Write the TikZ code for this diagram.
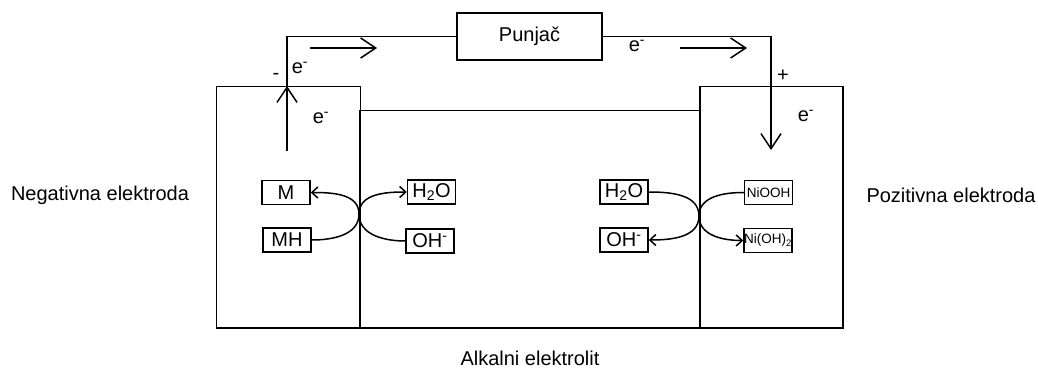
\documentclass[tikz,border=0pt]{standalone}
\usepackage{fontspec}
\setmainfont{Liberation Sans}
\usepackage{tikz}
\usetikzlibrary{arrows.meta,positioning}

\begin{document}
\begin{tikzpicture}[
    x=1pt, y=-1pt,
    cell/.style={draw, line width=1.5pt, inner sep=0pt, anchor=north west},
    chem/.style={draw, line width=1.5pt, minimum width=48pt, minimum height=24pt, inner sep=0pt, font=\fontsize{20}{24}\selectfont},
    lbl/.style={font=\fontsize{20}{24}\selectfont},
    wire/.style={line width=1.5pt},
    bigarr/.style={line width=1.5pt, -{Straight Barb[length=15pt, width=20pt, line width=1.5pt]}},
    curv/.style={line width=1.5pt, -{Straight Barb[length=6pt, width=11pt, line width=1.5pt]}}
]
\useasboundingbox (0,0) rectangle (1038,374);
% cell
\node[cell, minimum width=144pt, minimum height=241pt] (neg) at (215.5,86) {};
\node[cell, minimum width=340pt, minimum height=217pt] (elyt) at (359,110) {};
\node[cell, minimum width=143pt, minimum height=241pt] (pos) at (699,86) {};
\node[draw, line width=1.5pt, minimum width=145pt, minimum height=47pt, lbl] (charger) at (529.5,36.5) {Punja\v{c}};
% labels
\node[lbl] (neglbl) at (100,195) {Negativna elektroda};
\node[lbl] (poslbl) at (951,195) {Pozitivna elektroda};
\node[lbl] (elytlbl) at (530,358) {Alkalni elektrolit};
\node[lbl] (minus) at (276,76) {-};
\node[lbl] (plus) at (783,76) {+};
\node[lbl] (e1) at (300,68) {e\textsuperscript{-}};
\node[lbl] (e2) at (321,118) {e\textsuperscript{-}};
\node[lbl] (e3) at (637,46) {e\textsuperscript{-}};
\node[lbl] (e4) at (806,116) {e\textsuperscript{-}};
% species
\node[chem] (m) at (286,192.5) {M};
\node[chem] (mh) at (287,240) {MH};
\node[chem] (h2ol) at (431.5,192) {H\textsubscript{2}O};
\node[chem] (ohl) at (430,241) {OH\textsuperscript{-}};
\node[chem] (h2or) at (624,192) {H\textsubscript{2}O};
\node[chem] (ohr) at (624,240) {OH\textsuperscript{-}};
\node[chem, font=\fontsize{13.5}{15}\selectfont] (niooh) at (768.5,192.5) {NiOOH};
\node[chem, font=\fontsize{13.5}{15}\selectfont] (nioh) at (768,240.5) {Ni(OH)\textsubscript{2}};
% external circuit
\coordinate (lbot) at (287,151);
\coordinate (lmid) at (287,86);
\coordinate (ltop) at (287,36.5);
\coordinate (rtop) at (771,36.5);
\coordinate (rbot) at (771,150);
\draw[bigarr] (lbot) -- (lmid);
\draw[wire] (lmid) -- (ltop) -- (charger.west);
\draw[wire] (charger.east) -- (rtop) -- (771,100);
\draw[bigarr] (771,100) -- (rbot);
\coordinate (a1s) at (310,48);
\coordinate (a1e) at (377,48);
\coordinate (a2s) at (680,48);
\coordinate (a2e) at (747,48);
\draw[bigarr] (a1s) -- (a1e);
\draw[bigarr] (a2s) -- (a2e);
% reactions
\coordinate (lc) at (359,214);
\coordinate (rc) at (699,216);
\draw[curv] (mh.east) to[out=0, in=-90] (lc) to[out=90, in=0] (m.east);
\draw[curv] (ohl.west) to[out=180, in=-90] (lc) to[out=90, in=180] (h2ol.west);
\draw[curv] (h2or.east) to[out=0, in=90] (rc) to[out=-90, in=0] (ohr.east);
\draw[curv] (niooh.west) to[out=180, in=90] (rc) to[out=-90, in=180] (nioh.west);
\end{tikzpicture}
\end{document}
